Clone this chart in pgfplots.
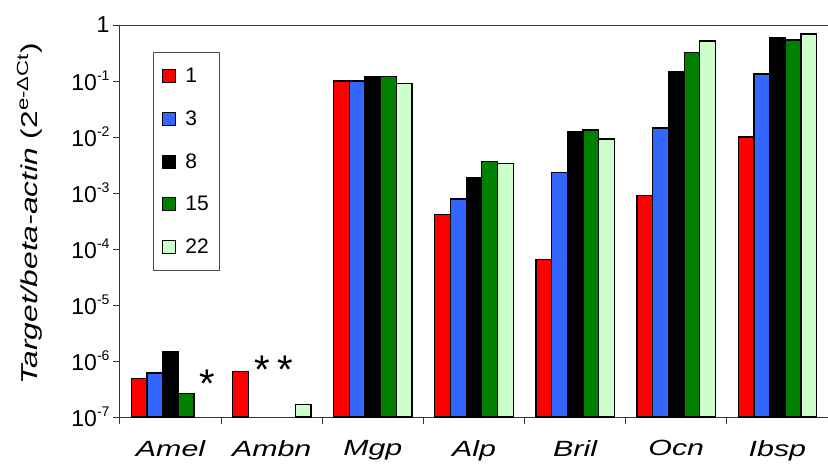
\documentclass[border=0pt]{standalone}
\usepackage{pgfplots}
\pgfplotsset{compat=1.18}
\usepackage{fontspec}
\setmainfont{Liberation Sans}
\newfontfamily\widefont[FakeStretch=1.38]{Liberation Sans}
\newcommand{\sx}[1]{\raisebox{0.42em}{\fontsize{14}{14}\selectfont #1}}
\definecolor{cred}{RGB}{255,0,0}
\definecolor{cblue}{RGB}{51,102,255}
\definecolor{cgreen}{RGB}{0,128,0}
\definecolor{clight}{RGB}{204,255,204}
\begin{document}
\begin{tikzpicture}
\begin{axis}[
  scale only axis, width=708pt, height=392pt,
  ymode=log, log origin y=infty,
  ymin=1e-7, ymax=1,
  xmin=-0.5, xmax=6.5,
  ybar=0pt, bar width=0.155,
  axis y line*=left,
  axis line style={black!80, line width=1pt},
  every tick/.style={black!80, line width=1pt},
  tick pos=left, tick align=outside, major tick length=7pt,
  yminorticks=false,
  xtick={-0.5,0.5,...,6.5},
  x tick label as interval,
  xticklabels={Amel,Ambn,Mgp,Alp,Bril,Ocn,Ibsp},
  xticklabel style={font=\widefont\fontsize{22}{22}\selectfont\itshape, yshift=-13pt},
  ytick={1e-7,1e-6,1e-5,1e-4,1e-3,1e-2,1e-1,1},
  yticklabels={10\sx{-7},10\sx{-6},10\sx{-5},10\sx{-4},10\sx{-3},10\sx{-2},10\sx{-1},1},
  yticklabel style={font=\fontsize{23}{23}\selectfont},
  ylabel={\textit{Target/beta-actin} (2\textsuperscript{e-ΔCt})},
  ylabel style={font=\widefont\fontsize{23}{23}\selectfont, at={(axis description cs:-0.110,0.518)}, anchor=south, inner sep=0pt},
  legend image code/.code={\draw[#1,line width=1pt] (0pt,-6.5pt) rectangle (13pt,6.5pt);},
  legend style={at={(rel axis cs:0.0466,0.931)}, anchor=north west, draw=black!70, line width=0.8pt,
    font=\fontsize{21}{21}\selectfont, row sep=22.5pt, column sep=7pt, inner xsep=9pt, inner ysep=14pt},
  legend cell align=left,
]
\addplot[fill=cred, draw=black, line width=1.2pt] coordinates {(0,4.8e-7) (1,6.6e-7) (2,0.10) (3,4.1e-4) (4,6.6e-5) (5,8.9e-4) (6,0.010)};
\addplot[fill=cblue, draw=black, line width=1.2pt] coordinates {(0,6.1e-7) (2,0.10) (3,7.8e-4) (4,2.3e-3) (5,0.0145) (6,0.133)};
\addplot[fill=black, draw=black, line width=1.2pt] coordinates {(0,1.45e-6) (2,0.12) (3,1.86e-3) (4,0.0123) (5,0.15) (6,0.59)};
\addplot[fill=cgreen, draw=black, line width=1.2pt] coordinates {(0,2.6e-7) (2,0.12) (3,3.6e-3) (4,0.0133) (5,0.32) (6,0.54)};
\addplot[fill=clight, draw=black, line width=1.2pt] coordinates {(1,1.7e-7) (2,0.089) (3,3.4e-3) (4,9.2e-3) (5,0.52) (6,0.69)};
\legend{1\hspace{3pt},3\hspace{3pt},8\hspace{3pt},15\hspace{3pt},22\hspace{3pt}}
\node[font=\fontsize{40}{40}\selectfont, yshift=-7pt] at (axis cs:0.36,5.2e-7) {*};
\node[font=\fontsize{40}{40}\selectfont, yshift=-7pt] at (axis cs:0.905,9.2e-7) {*};
\node[font=\fontsize{40}{40}\selectfont, yshift=-7pt] at (axis cs:1.13,9.2e-7) {*};
\end{axis}
\pgfresetboundingbox
\path ([shift={(-120pt,-49pt)}]current axis.south west) rectangle ([shift={(0pt,25pt)}]current axis.north east);
\end{tikzpicture}
\end{document}
